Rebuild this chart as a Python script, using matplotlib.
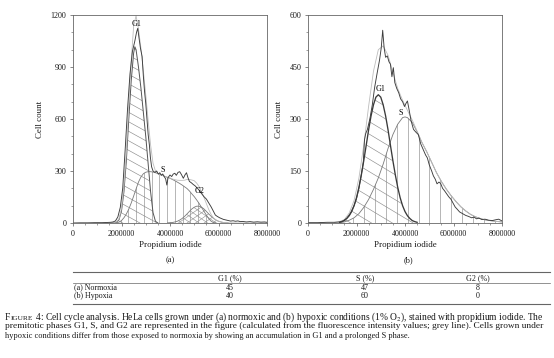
import numpy as np
import matplotlib
matplotlib.use("Agg")
import matplotlib.pyplot as plt
from matplotlib.lines import Line2D
from matplotlib.collections import LineCollection
from matplotlib.ticker import MultipleLocator

plt.rcParams['font.family'] = ['Liberation Serif', 'DejaVu Serif']
plt.rcParams['mathtext.fontset'] = 'stix'

W, H = 554, 358

# ---------------- panel (a): normoxia (x in millions) ----------------
a_hist_x = [0.0, 0.3, 0.6, 0.9, 1.2, 1.4, 1.55, 1.65, 1.75, 1.85, 1.95, 2.05, 2.15, 2.25,
            2.35, 2.45, 2.55, 2.62, 2.67, 2.72, 2.78, 2.85, 2.9, 2.95, 3.0, 3.05, 3.1, 3.15,
            3.19, 3.24, 3.3, 3.38, 3.45, 3.52, 3.58, 3.64, 3.7, 3.76, 3.82, 3.87, 3.92, 4.0,
            4.07, 4.13, 4.2, 4.26, 4.33, 4.4, 4.47, 4.55, 4.62, 4.68, 4.74, 4.8, 4.88, 4.96,
            5.03, 5.1, 5.2, 5.3, 5.4, 5.5, 5.6, 5.7, 5.8, 5.87, 5.95, 6.05, 6.2, 6.35, 6.5,
            6.6, 6.7, 6.8, 6.9, 7.0, 7.15, 7.3, 7.45, 7.6, 7.75, 7.9, 8.0]
a_hist_y = [0, 1, 1, 2, 2, 3, 4, 6, 12, 35, 90, 200, 420, 660,
            860, 990, 1050, 1100, 1123, 1070, 1010, 960, 850, 760, 690, 600, 510, 450,
            380, 325, 300, 292, 300, 282, 290, 275, 283, 268, 255, 219, 262, 277,
            268, 282, 287, 275, 292, 296, 280, 258, 278, 290, 262, 240, 232, 222,
            215, 205, 190, 170, 152, 138, 115, 92, 65, 46, 38, 30, 21, 16, 11,
            13, 10, 12, 8, 9, 6, 8, 5, 7, 5, 6, 4]

a_fit_x = [1.5, 1.6, 1.7, 1.8, 1.9, 2.0, 2.1, 2.2, 2.3, 2.4, 2.5, 2.6, 2.7, 2.8, 2.9, 3.0,
           3.1, 3.2, 3.3, 3.4, 3.5, 3.6, 3.7, 3.8, 3.9, 4.0, 4.1, 4.2, 4.3, 4.4, 4.5, 4.6,
           4.7, 4.8, 4.9, 5.0, 5.1, 5.2, 5.3, 5.4, 5.5, 5.6, 5.7, 5.8, 5.9, 6.0, 6.1, 6.2,
           6.4, 6.8, 8.0]
a_fit_y = [0, 1, 2, 7, 25, 84, 210, 412, 680, 935, 1135, 1196, 1120, 1010, 880, 740,
           590, 450, 345, 300, 285, 280, 274, 268, 264, 260, 254, 250, 247, 246, 246, 247,
           251, 251, 248, 244, 230, 210, 181, 148, 112, 77, 48, 28, 17, 10, 6, 3,
           1, 0, 0]

a_g1_x = [1.6, 1.7, 1.8, 1.9, 2.0, 2.1, 2.2, 2.3, 2.4, 2.5, 2.55, 2.6, 2.7, 2.8, 2.9, 3.0,
          3.1, 3.2, 3.3, 3.4, 3.5]
a_g1_y = [0, 1, 5, 20, 70, 180, 360, 600, 820, 980, 1017, 1000, 900, 780, 640, 500,
          340, 180, 60, 10, 0]

a_s_x = [1.8, 1.9, 2.0, 2.1, 2.2, 2.3, 2.4, 2.5, 2.6, 2.7, 2.8, 2.9, 3.0, 3.1, 3.2, 3.3,
         3.4, 3.5, 3.6, 3.7, 3.8, 3.9, 4.0, 4.1, 4.2, 4.3, 4.4, 4.5, 4.6, 4.7, 4.8, 4.9,
         5.0, 5.1, 5.2, 5.3, 5.4, 5.5, 5.6, 5.7, 5.8, 5.9]
a_s_y = [2, 5, 14, 30, 52, 80, 115, 155, 196, 236, 265, 284, 293, 296, 296, 294,
         290, 285, 280, 274, 268, 263, 258, 251, 244, 236, 228, 219, 209, 199, 185, 168,
         152, 133, 113, 90, 68, 45, 25, 10, 2, 0]

a_g2_x = [3.9, 4.0, 4.1, 4.2, 4.3, 4.4, 4.5, 4.6, 4.7, 4.8, 4.9, 5.0, 5.1, 5.2, 5.3, 5.4,
          5.5, 5.6, 5.7, 5.8, 5.9, 6.0, 6.1, 6.2, 6.3, 6.4]
a_g2_y = [1, 2, 3, 6, 10, 17, 26, 38, 52, 67, 81, 91, 97, 97, 91, 81,
          67, 52, 38, 26, 17, 10, 6, 3, 2, 1]

# ---------------- panel (b): hypoxia (x in millions) ----------------
b_hist_x = [0.0, 0.4, 0.8, 1.1, 1.3, 1.45, 1.6, 1.75, 1.9, 2.0, 2.1, 2.2, 2.28, 2.33, 2.38,
            2.45, 2.55, 2.65, 2.75, 2.85, 2.95, 3.02, 3.08, 3.14, 3.2, 3.27, 3.34, 3.4,
            3.46, 3.52, 3.58, 3.66, 3.74, 3.82, 3.9, 3.98, 4.04, 4.1, 4.16, 4.25, 4.35,
            4.45, 4.55, 4.65, 4.75, 4.85, 4.92, 5.0, 5.1, 5.17, 5.25, 5.32, 5.4, 5.47,
            5.55, 5.63, 5.72, 5.8, 5.9, 6.0, 6.07, 6.15, 6.25, 6.35, 6.5, 6.62, 6.75,
            6.85, 6.95, 7.05, 7.17, 7.3, 7.45, 7.6, 7.72, 7.86, 8.0]
b_hist_y = [1, 1, 2, 2, 3, 6, 14, 28, 50, 70, 100, 140, 175, 240, 258,
            270, 300, 340, 392, 432, 470, 505, 556, 505, 478, 482, 465, 458,
            422, 448, 405, 388, 376, 358, 350, 336, 345, 352, 330, 295, 270,
            262, 255, 228, 212, 196, 188, 168, 150, 136, 126, 113, 118, 114,
            100, 93, 84, 76, 68, 55, 46, 40, 32, 28, 22, 19, 15,
            17, 12, 14, 10, 11, 8, 7, 9, 11, 6]

b_fit_x = [1.1, 1.3, 1.5, 1.7, 1.9, 2.1, 2.3, 2.5, 2.7, 2.9, 3.1, 3.3, 3.5, 3.7, 3.9, 4.1,
           4.3, 4.5, 4.7, 4.9, 5.1, 5.3, 5.5, 5.7, 5.9, 6.1, 6.3, 6.5, 6.7, 6.9, 7.1, 7.3,
           7.5, 7.7, 8.0]
b_fit_y = [2, 4, 10, 29, 65, 130, 225, 337, 438, 500, 511, 484, 435, 388, 354, 325,
           297, 265, 232, 205, 175, 145, 120, 98, 79, 62, 47, 35, 25, 18, 13, 9,
           7, 5, 3]

b_g1_x = [1.3, 1.4, 1.5, 1.6, 1.7, 1.8, 1.9, 2.0, 2.1, 2.2, 2.3, 2.4, 2.5, 2.6, 2.7, 2.8,
          2.9, 3.0, 3.1, 3.2, 3.3, 3.4, 3.5, 3.6, 3.7, 3.8, 3.9, 4.0, 4.1, 4.2, 4.3, 4.4, 4.5]
b_g1_y = [2, 4, 7, 13, 21, 33, 50, 73, 103, 139, 180, 224, 269, 309, 341, 363,
          370, 363, 341, 309, 269, 224, 180, 139, 103, 73, 50, 33, 21, 13, 7, 4, 2]

b_s_x = [1.3, 1.5, 1.7, 1.9, 2.1, 2.3, 2.5, 2.7, 2.9, 3.1, 3.3, 3.5, 3.7, 3.9, 4.0, 4.1,
         4.3, 4.5, 4.7, 4.9, 5.1, 5.3, 5.5, 5.7, 5.9, 6.1, 6.3, 6.5, 6.7, 6.9, 7.1, 7.3,
         7.5, 7.7, 8.0]
b_s_y = [1, 3, 8, 15, 27, 45, 68, 97, 130, 170, 215, 255, 285, 304, 306, 304,
         290, 263, 232, 205, 175, 145, 120, 98, 79, 62, 47, 35, 25, 18, 13, 9,
         7, 5, 3]

x_ticks = [0, 2e6, 4e6, 6e6, 8e6]
x_tick_labels = ['0', '2000000', '4000000', '6000000', '8000000']
a_y_ticks = [0, 300, 600, 900, 1200]
b_y_ticks = [0, 150, 300, 450, 600]

# ---------------- table ----------------
table_cols = ['G1 (%)', 'S (%)', 'G2 (%)']
table_rows = ['(a) Normoxia', '(b) Hypoxia']
table_vals = [[45, 47, 8], [40, 60, 0]]

caption = [
    ' 4: Cell cycle analysis. HeLa cells grown under (a) normoxic and (b) hypoxic '
    'conditions (1% O$_2$), stained with propidium iodide. The',
    'premitotic phases G1, S, and G2 are represented in the figure (calculated from the '
    'fluorescence intensity values; grey line). Cells grown under',
    'hypoxic conditions differ from those exposed to normoxia by showing an accumulation '
    'in G1 and a prolonged S phase.',
]

DARK = '#3c3c3c'
GREY = '#bdbdbd'
HATCH = '#8c8c8c'

fig = plt.figure(figsize=(W / 100, H / 100), dpi=100)


def fx(px):
    return px / W


def fy(py):
    return 1 - py / H


def diag_hatch(ax, poly, slopes, step_px, color, lw):
    bb = ax.get_position()
    wpx, hpx = bb.width * W, bb.height * H
    path = poly.get_paths()[0]
    for s in slopes:
        k = s * wpx / hpx
        dc = step_px / hpx
        cs = np.arange(-abs(k) - 1, 1 + abs(k) + 1, dc)
        segs = [[(0, c), (1, c + k)] for c in cs]
        lc = LineCollection(segs, colors=color, linewidths=lw, transform=ax.transAxes)
        ax.add_collection(lc)
        lc.set_clip_path(path, poly.get_transform())


def vert_hatch(ax, poly, start, step, top, color, lw):
    xs = np.arange(start, 8e6, step)
    lc = ax.vlines(xs, 0, top, colors=color, linewidths=lw)
    lc.set_clip_path(poly.get_paths()[0], poly.get_transform())


def style_axes(ax, yticks, yminor):
    ax.set_xlim(0, 8e6)
    ax.set_ylim(0, yticks[-1])
    ax.set_xticks(x_ticks)
    ax.set_xticklabels(x_tick_labels)
    ax.set_yticks(yticks)
    ax.set_yticklabels([str(v) for v in yticks])
    ax.xaxis.set_minor_locator(MultipleLocator(5e5))
    ax.yaxis.set_minor_locator(MultipleLocator(yminor))
    ax.tick_params(which='major', length=2.2, width=0.5, labelsize=5.8, pad=2.5,
                   color='#555555', labelcolor='#1a1a1a')
    ax.tick_params(which='minor', length=1.2, width=0.4, color='#555555')
    for sp in ax.spines.values():
        sp.set_linewidth(0.6)
        sp.set_color('#666666')
    ax.set_xlabel('Propidium iodide', fontsize=6.4, labelpad=2.5, color='#1a1a1a')
    ax.set_ylabel('Cell count', fontsize=6.4, labelpad=5, color='#1a1a1a')


M = 1e6

# ---- (a)
axa = fig.add_axes([fx(73), fy(223), fx(267) - fx(73), fy(15) - fy(223)])
style_axes(axa, a_y_ticks, 100)
xa_g1 = np.array(a_g1_x) * M
xa_s = np.array(a_s_x) * M
xa_g2 = np.array(a_g2_x) * M
p_g1 = axa.fill_between(xa_g1, 0, a_g1_y, facecolor='none', linewidth=0)
p_s = axa.fill_between(xa_s, 0, a_s_y, facecolor='none', linewidth=0)
p_g2 = axa.fill_between(xa_g2, 0, a_g2_y, facecolor='none', linewidth=0)
vert_hatch(axa, p_s, 1.96e6, 0.32e6, 400, HATCH, 0.45)
diag_hatch(axa, p_g1, [-0.55], 9.5, HATCH, 0.45)
diag_hatch(axa, p_g2, [-0.7, 0.7], 6.0, HATCH, 0.4)
axa.plot(xa_s, a_s_y, color='#7a7a7a', lw=0.6)
axa.plot(xa_g2, a_g2_y, color='#7a7a7a', lw=0.6)
axa.plot(xa_g1, a_g1_y, color='#555555', lw=0.7)
axa.plot(np.array(a_fit_x) * M, a_fit_y, color=GREY, lw=0.6)
axa.plot(np.array(a_hist_x) * M, a_hist_y, color=DARK, lw=0.65)
axa.text(2.62e6, 1150, 'G1', fontsize=5.8, ha='center', va='center')
axa.text(3.71e6, 306, 'S', fontsize=5.8, ha='center', va='center')
axa.text(5.2e6, 186, 'G2', fontsize=5.8, ha='center', va='center')

# ---- (b)
axb = fig.add_axes([fx(308), fy(223), fx(502) - fx(308), fy(15) - fy(223)])
style_axes(axb, b_y_ticks, 50)
xb_g1 = np.array(b_g1_x) * M
xb_s = np.array(b_s_x) * M
q_g1 = axb.fill_between(xb_g1, 0, b_g1_y, facecolor='none', linewidth=0)
q_s = axb.fill_between(xb_s, 0, b_s_y, facecolor='none', linewidth=0)
vert_hatch(axb, q_s, 1.87e6, 0.448e6, 400, HATCH, 0.45)
diag_hatch(axb, q_g1, [-0.6], 12.5, HATCH, 0.45)
axb.plot(xb_s, b_s_y, color='#7a7a7a', lw=0.6)
axb.plot(np.array(b_fit_x) * M, b_fit_y, color=GREY, lw=0.6)
axb.plot(xb_g1, b_g1_y, color='#3a3a3a', lw=0.95)
axb.plot(np.array(b_hist_x) * M, b_hist_y, color=DARK, lw=0.65)
axb.text(3.01e6, 386, 'G1', fontsize=5.8, ha='center', va='center')
axb.text(3.83e6, 316, 'S', fontsize=5.8, ha='center', va='center')

fig.text(fx(170), fy(260), '(a)', fontsize=6, ha='center', va='center', color='#1a1a1a')
fig.text(fx(408), fy(260), '(b)', fontsize=6, ha='center', va='center', color='#1a1a1a')

# ---- table
for yy, lw in [(272, 0.8), (283, 0.5), (303.5, 0.8)]:
    fig.add_artist(Line2D([fx(73), fx(550)], [fy(yy), fy(yy)], color='#666666', lw=lw))
col_x = [230, 365, 478]
for cx, name in zip(col_x, table_cols):
    fig.text(fx(cx), fy(278), name, fontsize=5.8, ha='center', va='center', color='#1a1a1a')
for ry, rname, vals in zip([287.5, 296], table_rows, table_vals):
    fig.text(fx(73.5), fy(ry), rname, fontsize=5.8, ha='left', va='center', color='#1a1a1a')
    for cx, v in zip(col_x, vals):
        fig.text(fx(cx), fy(ry), str(v), fontsize=5.8, ha='center', va='center',
                 color='#1a1a1a')

# ---- caption (lines 1 and 2 stretched to the full width)
renderer = fig.canvas.get_renderer()
base_fs = 6.0
baselines = [319.5, 328.5, 337.5]


def put_line(i, fs):
    y = fy(baselines[i])
    x = fx(5)
    if i == 0:
        t1 = fig.text(x, y, 'F', fontsize=fs, va='baseline', color='#1a1a1a')
        w1 = t1.get_window_extent(renderer).width
        t2 = fig.text(x + w1 / W, y, 'IGURE', fontsize=fs * 0.78, va='baseline',
                      color='#1a1a1a')
        w2 = t2.get_window_extent(renderer).width
        t3 = fig.text(x + (w1 + w2) / W, y, caption[0], fontsize=fs, va='baseline',
                      color='#1a1a1a')
        return [t1, t2, t3]
    return [fig.text(x, y, caption[i], fontsize=fs, va='baseline', color='#1a1a1a')]


for i in range(3):
    arts = put_line(i, base_fs)
    if i < 2:
        x1 = max(a.get_window_extent(renderer).x1 for a in arts)
        width = x1 - 5
        for a in arts:
            a.remove()
        put_line(i, base_fs * 543.5 / width)

fig.savefig('out.png', dpi=100)
